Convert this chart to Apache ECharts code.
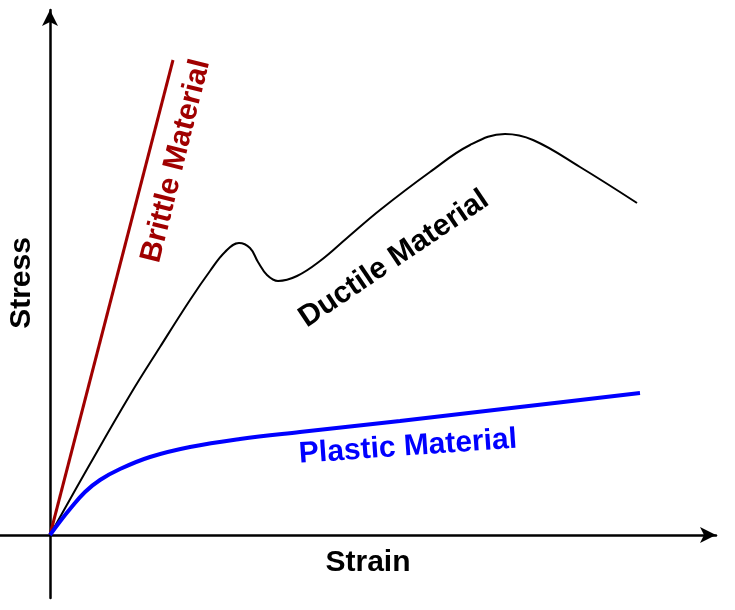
<!DOCTYPE html>
<html>
<head>
<meta charset="utf-8">
<script src="https://cdn.jsdelivr.net/npm/echarts@6/dist/echarts.min.js"></script>
<style>
  html, body { margin: 0; padding: 0; background: #fff; }
  #main { width: 735px; height: 610px; }
</style>
</head>
<body>
<div id="main"></div>
<script>
// stress-strain sketch, units are arbitrary (strain, stress)
var brittle_x = [0, 12.3];
var brittle_y = [0, 47.5];

var ductile_x = [0, 4, 8, 11, 14, 16, 17.5, 18.9, 20, 20.8, 21.7, 22.8, 24.7, 27, 29.7, 33, 38, 42, 45.5, 48.3, 53, 58.7];
var ductile_y = [0, 7.1, 14, 18.8, 23.5, 26.4, 28.3, 29.2, 28.7, 27.3, 26, 25.4, 25.9, 27.4, 29.7, 32.5, 36.3, 39, 40.1, 39.5, 36.8, 33.2];

var plastic_x = [0, 1, 2, 3.5, 5, 7, 10, 14, 19, 25, 35, 47, 59];
var plastic_y = [0, 1.35, 2.6, 4.3, 5.5, 6.6, 7.8, 8.8, 9.6, 10.3, 11.4, 12.8, 14.2];

function pairs(xs, ys) {
  var out = [];
  for (var i = 0; i < xs.length; i++) {
    out.push([xs[i], ys[i]]);
  }
  return out;
}

function label(text, x, y, deg, color) {
  return {
    type: 'text',
    x: x,
    y: y,
    rotation: deg * Math.PI / 180,
    style: {
      text: text,
      fill: color,
      font: 'bold 30px "Liberation Sans", Arial, sans-serif',
      textAlign: 'center',
      textVerticalAlign: 'middle'
    }
  };
}

var chart = echarts.init(document.getElementById('main'));

var axisStyle = {
  show: true,
  onZero: true,
  symbol: ['none', 'arrow'],
  symbolSize: [12, 16],
  lineStyle: { color: '#000', width: 2.5 }
};

var option = {
  animation: false,
  grid: { left: 0, right: 19, top: 10, bottom: 12 },
  xAxis: {
    type: 'value',
    min: -5,
    max: 66.6,
    axisLine: axisStyle,
    axisTick: { show: false },
    axisLabel: { show: false },
    splitLine: { show: false }
  },
  yAxis: {
    type: 'value',
    min: -6.3,
    max: 52.5,
    axisLine: axisStyle,
    axisTick: { show: false },
    axisLabel: { show: false },
    splitLine: { show: false }
  },
  series: [{
    name: 'Brittle Material',
    type: 'line',
    showSymbol: false,
    data: pairs(brittle_x, brittle_y),
    lineStyle: { color: '#a00000', width: 3 }
  }, {
    name: 'Ductile Material',
    type: 'line',
    showSymbol: false,
    smooth: 0.4,
    data: pairs(ductile_x, ductile_y),
    lineStyle: { color: '#000', width: 2 }
  }, {
    name: 'Plastic Material',
    type: 'line',
    showSymbol: false,
    smooth: 0.4,
    data: pairs(plastic_x, plastic_y),
    lineStyle: { color: '#0000ff', width: 4 }
  }],
  graphic: [
    label('Stress', 22, 283, 90, '#000'),
    label('Strain', 368, 563, 0, '#000'),
    label('Brittle Material', 176, 161, 76, '#a00000'),
    label('Ductile Material', 394, 259, 34, '#000'),
    label('Plastic Material', 408, 447, 4, '#0000ff')
  ]
};
chart.setOption(option);
</script>
</body>
</html>
